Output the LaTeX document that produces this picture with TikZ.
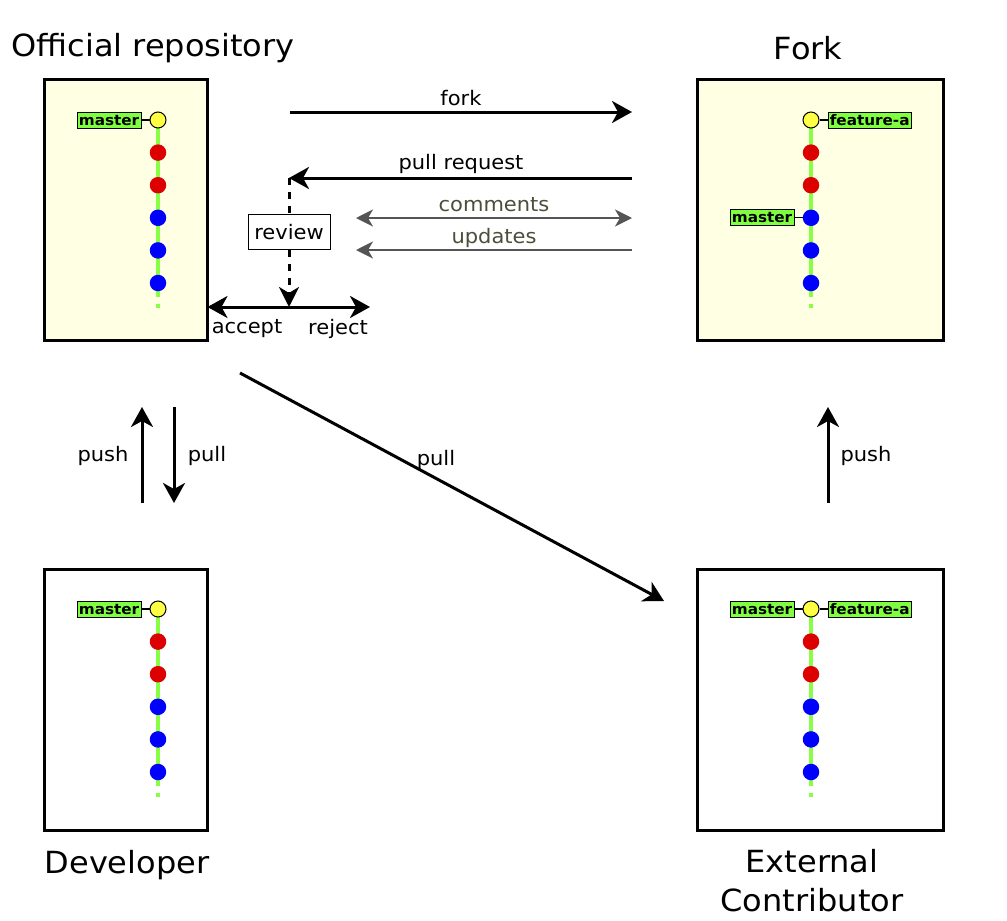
\documentclass[tikz,border=0pt]{standalone}
\usepackage{fontspec}
\setmainfont{DejaVu Sans}[FakeStretch=1.05]
\usetikzlibrary{arrows.meta,positioning,calc}
\definecolor{repofill}{HTML}{FFFFE3}
\definecolor{gline}{HTML}{88FF44}
\definecolor{lblfill}{HTML}{80FF40}
\definecolor{cred}{HTML}{DD0000}
\definecolor{cblue}{HTML}{0000FF}
\definecolor{cyel}{HTML}{FFFF44}
\definecolor{garrow}{HTML}{555555}
\definecolor{gtext}{HTML}{4D4D3A}
\tikzset{
  repo/.style={draw=black, line width=3pt, minimum height=261pt, inner sep=0pt},
  commit/.style={circle, minimum size=16.5pt, inner sep=0pt},
  headc/.style={circle, draw=black, line width=1pt, fill=cyel, minimum size=16pt, inner sep=0pt},
  branchline/.style={gline, line width=3.5pt},
  blabel/.style={draw=black, line width=1pt, fill=lblfill, font=\fontsize{14.5}{15}\selectfont\bfseries, inner xsep=1.8pt, inner ysep=0.5pt, minimum height=16pt, text depth=0pt},
  title/.style={font=\fontsize{30.5}{39}\selectfont, align=center},
  lbl/.style={font=\fontsize{20}{22}\selectfont},
  glbl/.style={font=\fontsize{20}{22}\selectfont, text=gtext},
  bigarrow/.style={line width=3pt, -{Stealth[length=20pt,width=22pt,inset=6pt]}},
  bigboth/.style={line width=3pt, {Stealth[length=20pt,width=22pt,inset=6pt]}-{Stealth[length=20pt,width=22pt,inset=6pt]}},
  grayarrow/.style={garrow, line width=2pt, -{Stealth[length=17pt,width=17pt,inset=5pt]}},
  grayboth/.style={garrow, line width=2pt, {Stealth[length=17pt,width=17pt,inset=5pt]}-{Stealth[length=17pt,width=17pt,inset=5pt]}},
  branchlink/.style={draw=black, line width=1.2pt}
}
\newcommand{\commitcolumn}[3]{%
  \coordinate (#1top) at (#2,#3);
  \draw[branchline] (#1top) -- ++(0,177);
  \draw[branchline] ($(#1top)+(0,184)$) -- ++(0,3.5);
  \node[headc] (#1h) at (#1top) {};
  \foreach \i/\c in {1/cred,2/cred,3/cblue,4/cblue,5/cblue}
    \node[commit, fill=\c] (#1c\i) at ($(#1top)+(0,\i*32.6)$) {};
}
\begin{document}
\begin{tikzpicture}[x=1pt,y=-1pt]
\useasboundingbox (0,0) rectangle (1007,921);
% repositories
\node[repo, fill=repofill, minimum width=163pt] (official) at (125.5,209.5) {};
\node[repo, fill=repofill, minimum width=246pt] (fork) at (820,209.5) {};
\node[repo, fill=white, minimum width=163pt] (developer) at (125.5,699.5) {};
\node[repo, fill=white, minimum width=246pt] (external) at (820,699.5) {};
% titles
\node[title] (tofficial) at (153,48) {Official repository};
\node[title] (tfork) at (808,48) {Fork};
\node[title] (tdev) at (127,865) {Developer};
\node[title] (text) at (812,881) {External\\Contributor};
% commits
\commitcolumn{o}{158}{120}
\commitcolumn{f}{811}{120}
\commitcolumn{d}{158}{609}
\commitcolumn{e}{811}{609}
% branch labels
\node[blabel, left=8pt of oh] (omaster) {master};
\draw[branchlink] (omaster) -- (oh);
\node[blabel, right=8pt of fh] (ffeat) {feature-a};
\draw[branchlink] (fh) -- (ffeat);
\node[blabel, left=8pt of fc3] (fmaster) {master};
\draw[branchlink] (fmaster) -- (fc3);
\node[blabel, left=8pt of dh] (dmaster) {master};
\draw[branchlink] (dmaster) -- (dh);
\node[blabel, left=8pt of eh] (emaster) {master};
\draw[branchlink] (emaster) -- (eh);
\node[blabel, right=8pt of eh] (efeat) {feature-a};
\draw[branchlink] (eh) -- (efeat);
% fork arrow
\coordinate (forkA) at (290,112);
\coordinate (forkB) at (632,112);
\draw[bigarrow] (forkA) -- (forkB);
\node[lbl] (lfork) at (461,98) {fork};
% pull request
\coordinate (prA) at (632,178);
\coordinate (prB) at (289,178);
\draw[bigarrow] (prA) -- (prB);
\node[lbl] (lpr) at (461,164) {pull request};
% review
\node[draw=black, line width=1pt, fill=white, lbl, minimum width=82pt, minimum height=35pt, inner sep=2pt] (review) at (289,232) {review};
\coordinate (decide) at (289,307);
\draw[line width=3pt, dash pattern=on 7pt off 7pt] (prB) -- (review.north);
\draw[line width=3pt, dash pattern=on 7pt off 7pt, -{Stealth[length=20pt,width=20pt,inset=6pt]}] (review.south) -- (decide);
% accept / reject
\coordinate (rejectEnd) at (370,307);
\coordinate (acceptEnd) at (207.5,307);
\draw[bigboth] (acceptEnd) -- (rejectEnd);
\node[lbl] (laccept) at (247,329) {accept};
\node[lbl] (lreject) at (338,329) {reject};
% comments / updates
\coordinate (cA) at (356,218);
\coordinate (cB) at (632,218);
\draw[grayboth] (cA) -- (cB);
\node[glbl] (lcomments) at (494,205) {comments};
\coordinate (uA) at (632,250);
\coordinate (uB) at (356,250);
\draw[grayarrow] (uA) -- (uB);
\node[glbl] (lupdates) at (494,238) {updates};
% push / pull developer
\coordinate (pushA) at (142,503);
\coordinate (pushB) at (142,407);
\draw[bigarrow] (pushA) -- (pushB);
\node[lbl] (lpush) at (103,456) {push};
\coordinate (pullA) at (174,407);
\coordinate (pullB) at (174,503);
\draw[bigarrow] (pullA) -- (pullB);
\node[lbl] (lpull) at (207,456) {pull};
% diagonal pull
\coordinate (dpA) at (240,373);
\coordinate (dpB) at (664,601);
\draw[bigarrow] (dpA) -- (dpB);
\node[lbl] (ldp) at (436,460) {pull};
% push external
\coordinate (epA) at (828,503);
\coordinate (epB) at (828,407);
\draw[bigarrow] (epA) -- (epB);
\node[lbl] (lep) at (866,456) {push};
\end{tikzpicture}
\end{document}
